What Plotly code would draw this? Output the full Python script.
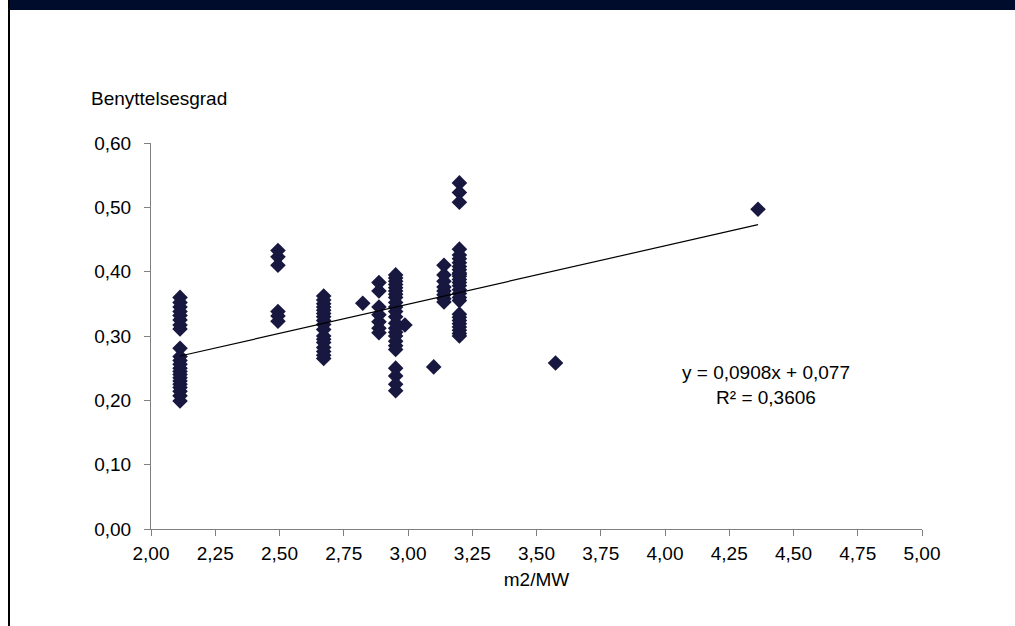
import plotly.graph_objects as go

# Data (m2/MW vs Benyttelsesgrad)
x_2_11 = [2.113] * 22
y_2_11 = [0.360, 0.352, 0.345, 0.338, 0.332, 0.325, 0.317, 0.311,
          0.281, 0.268, 0.262, 0.256, 0.250, 0.245, 0.240, 0.235,
          0.230, 0.225, 0.220, 0.214, 0.207, 0.199]
x_2_50 = [2.494] * 6
y_2_50 = [0.433, 0.423, 0.410, 0.338, 0.331, 0.323]
x_2_67 = [2.672] * 17
y_2_67 = [0.362, 0.356, 0.350, 0.345, 0.340, 0.335, 0.330, 0.324, 0.318,
          0.310, 0.300, 0.295, 0.290, 0.282, 0.276, 0.270, 0.265]
x_single = [2.824, 2.988, 3.100, 3.574, 4.362]
y_single = [0.351, 0.317, 0.252, 0.258, 0.497]
x_2_89 = [2.887] * 7
y_2_89 = [0.383, 0.370, 0.345, 0.333, 0.322, 0.312, 0.305]
x_2_95 = [2.952] * 23
y_2_95 = [0.395, 0.390, 0.385, 0.380, 0.375, 0.370, 0.365, 0.360, 0.352,
          0.345, 0.338, 0.330, 0.320, 0.312, 0.306, 0.300, 0.292, 0.285,
          0.279, 0.250, 0.238, 0.225, 0.215]
x_3_14 = [3.14] * 8
y_3_14 = [0.410, 0.395, 0.385, 0.376, 0.370, 0.364, 0.358, 0.353]
x_3_20 = [3.20] * 27
y_3_20 = [0.538, 0.523, 0.508,
          0.435, 0.426, 0.420, 0.414, 0.408, 0.403, 0.398, 0.393, 0.388,
          0.383, 0.378, 0.372, 0.366, 0.360, 0.355,
          0.334, 0.329, 0.324, 0.319, 0.314, 0.309, 0.304, 0.300, 0.396]

x_vals = x_2_11 + x_2_50 + x_2_67 + x_single + x_2_89 + x_2_95 + x_3_14 + x_3_20
y_vals = y_2_11 + y_2_50 + y_2_67 + y_single + y_2_89 + y_2_95 + y_3_14 + y_3_20

slope = 0.0908
intercept = 0.077
r2 = 0.3606

x_ticks = [2.00, 2.25, 2.50, 2.75, 3.00, 3.25, 3.50, 3.75, 4.00, 4.25, 4.50, 4.75, 5.00]
y_ticks = [0.00, 0.10, 0.20, 0.30, 0.40, 0.50, 0.60]

FONT = "Liberation Sans, Arial, sans-serif"
GREY = "#808080"
FS = 19

fig = go.Figure()
fig.add_trace(go.Scatter(
    x=x_vals, y=y_vals, mode="markers",
    marker=dict(symbol="diamond", size=12, color="#17173f",
                line=dict(width=0)),
    showlegend=False, hoverinfo="x+y"))

x_min, x_max = min(x_vals), max(x_vals)
fig.add_trace(go.Scatter(
    x=[x_min, x_max], y=[slope * x_min + intercept, slope * x_max + intercept],
    mode="lines", line=dict(color="black", width=1.2),
    showlegend=False, hoverinfo="skip"))

fig.update_layout(
    width=1015, height=626,
    margin=dict(l=151, r=93, t=143, b=97),
    paper_bgcolor="white", plot_bgcolor="white",
    separators=", ",
    font=dict(family=FONT, size=FS, color="black"),
    xaxis=dict(range=[2, 5], tickvals=x_ticks, tickformat=".2f",
               showgrid=False, zeroline=False, showline=True,
               linecolor=GREY, linewidth=1, ticks="outside", ticklen=6,
               tickcolor=GREY, tickfont=dict(size=FS), ticklabelstandoff=1,
               title=dict(text="m2/MW", font=dict(size=FS), standoff=9)),
    yaxis=dict(range=[0, 0.6], tickvals=y_ticks, tickformat=".2f",
               showgrid=False, zeroline=False, showline=True,
               linecolor=GREY, linewidth=1, ticks="outside", ticklen=6,
               tickcolor=GREY, tickfont=dict(size=FS), ticklabelstandoff=9),
    shapes=[
        dict(type="rect", xref="paper", yref="paper",
             x0=-142/771, x1=(1015-151)/771, y0=1 + 133/386, y1=1 + 143/386,
             fillcolor="#000c2c", line=dict(width=0), layer="above"),
        dict(type="line", xref="paper", yref="paper",
             x0=-142/771, x1=-142/771, y0=-97/386, y1=1 + 143/386,
             line=dict(color="black", width=2)),
    ],
    annotations=[
        dict(text="Benyttelsesgrad", xref="paper", yref="paper",
             x=-62/771, y=1 + 45/386, xanchor="left", yanchor="middle",
             showarrow=False, font=dict(size=FS)),
        dict(text=f"y = {slope:.4f}x + {intercept:.3f}".replace(".", ",")
             + "<br>" + f"R² = {r2:.4f}".replace(".", ","),
             xref="x", yref="y", x=4.393, y=0.224,
             xanchor="center", yanchor="middle", align="center",
             showarrow=False, font=dict(size=FS)),
    ],
)

fig.write_html("out.html", config={"displayModeBar": False},
               post_script="document.body.style.margin='0';")
